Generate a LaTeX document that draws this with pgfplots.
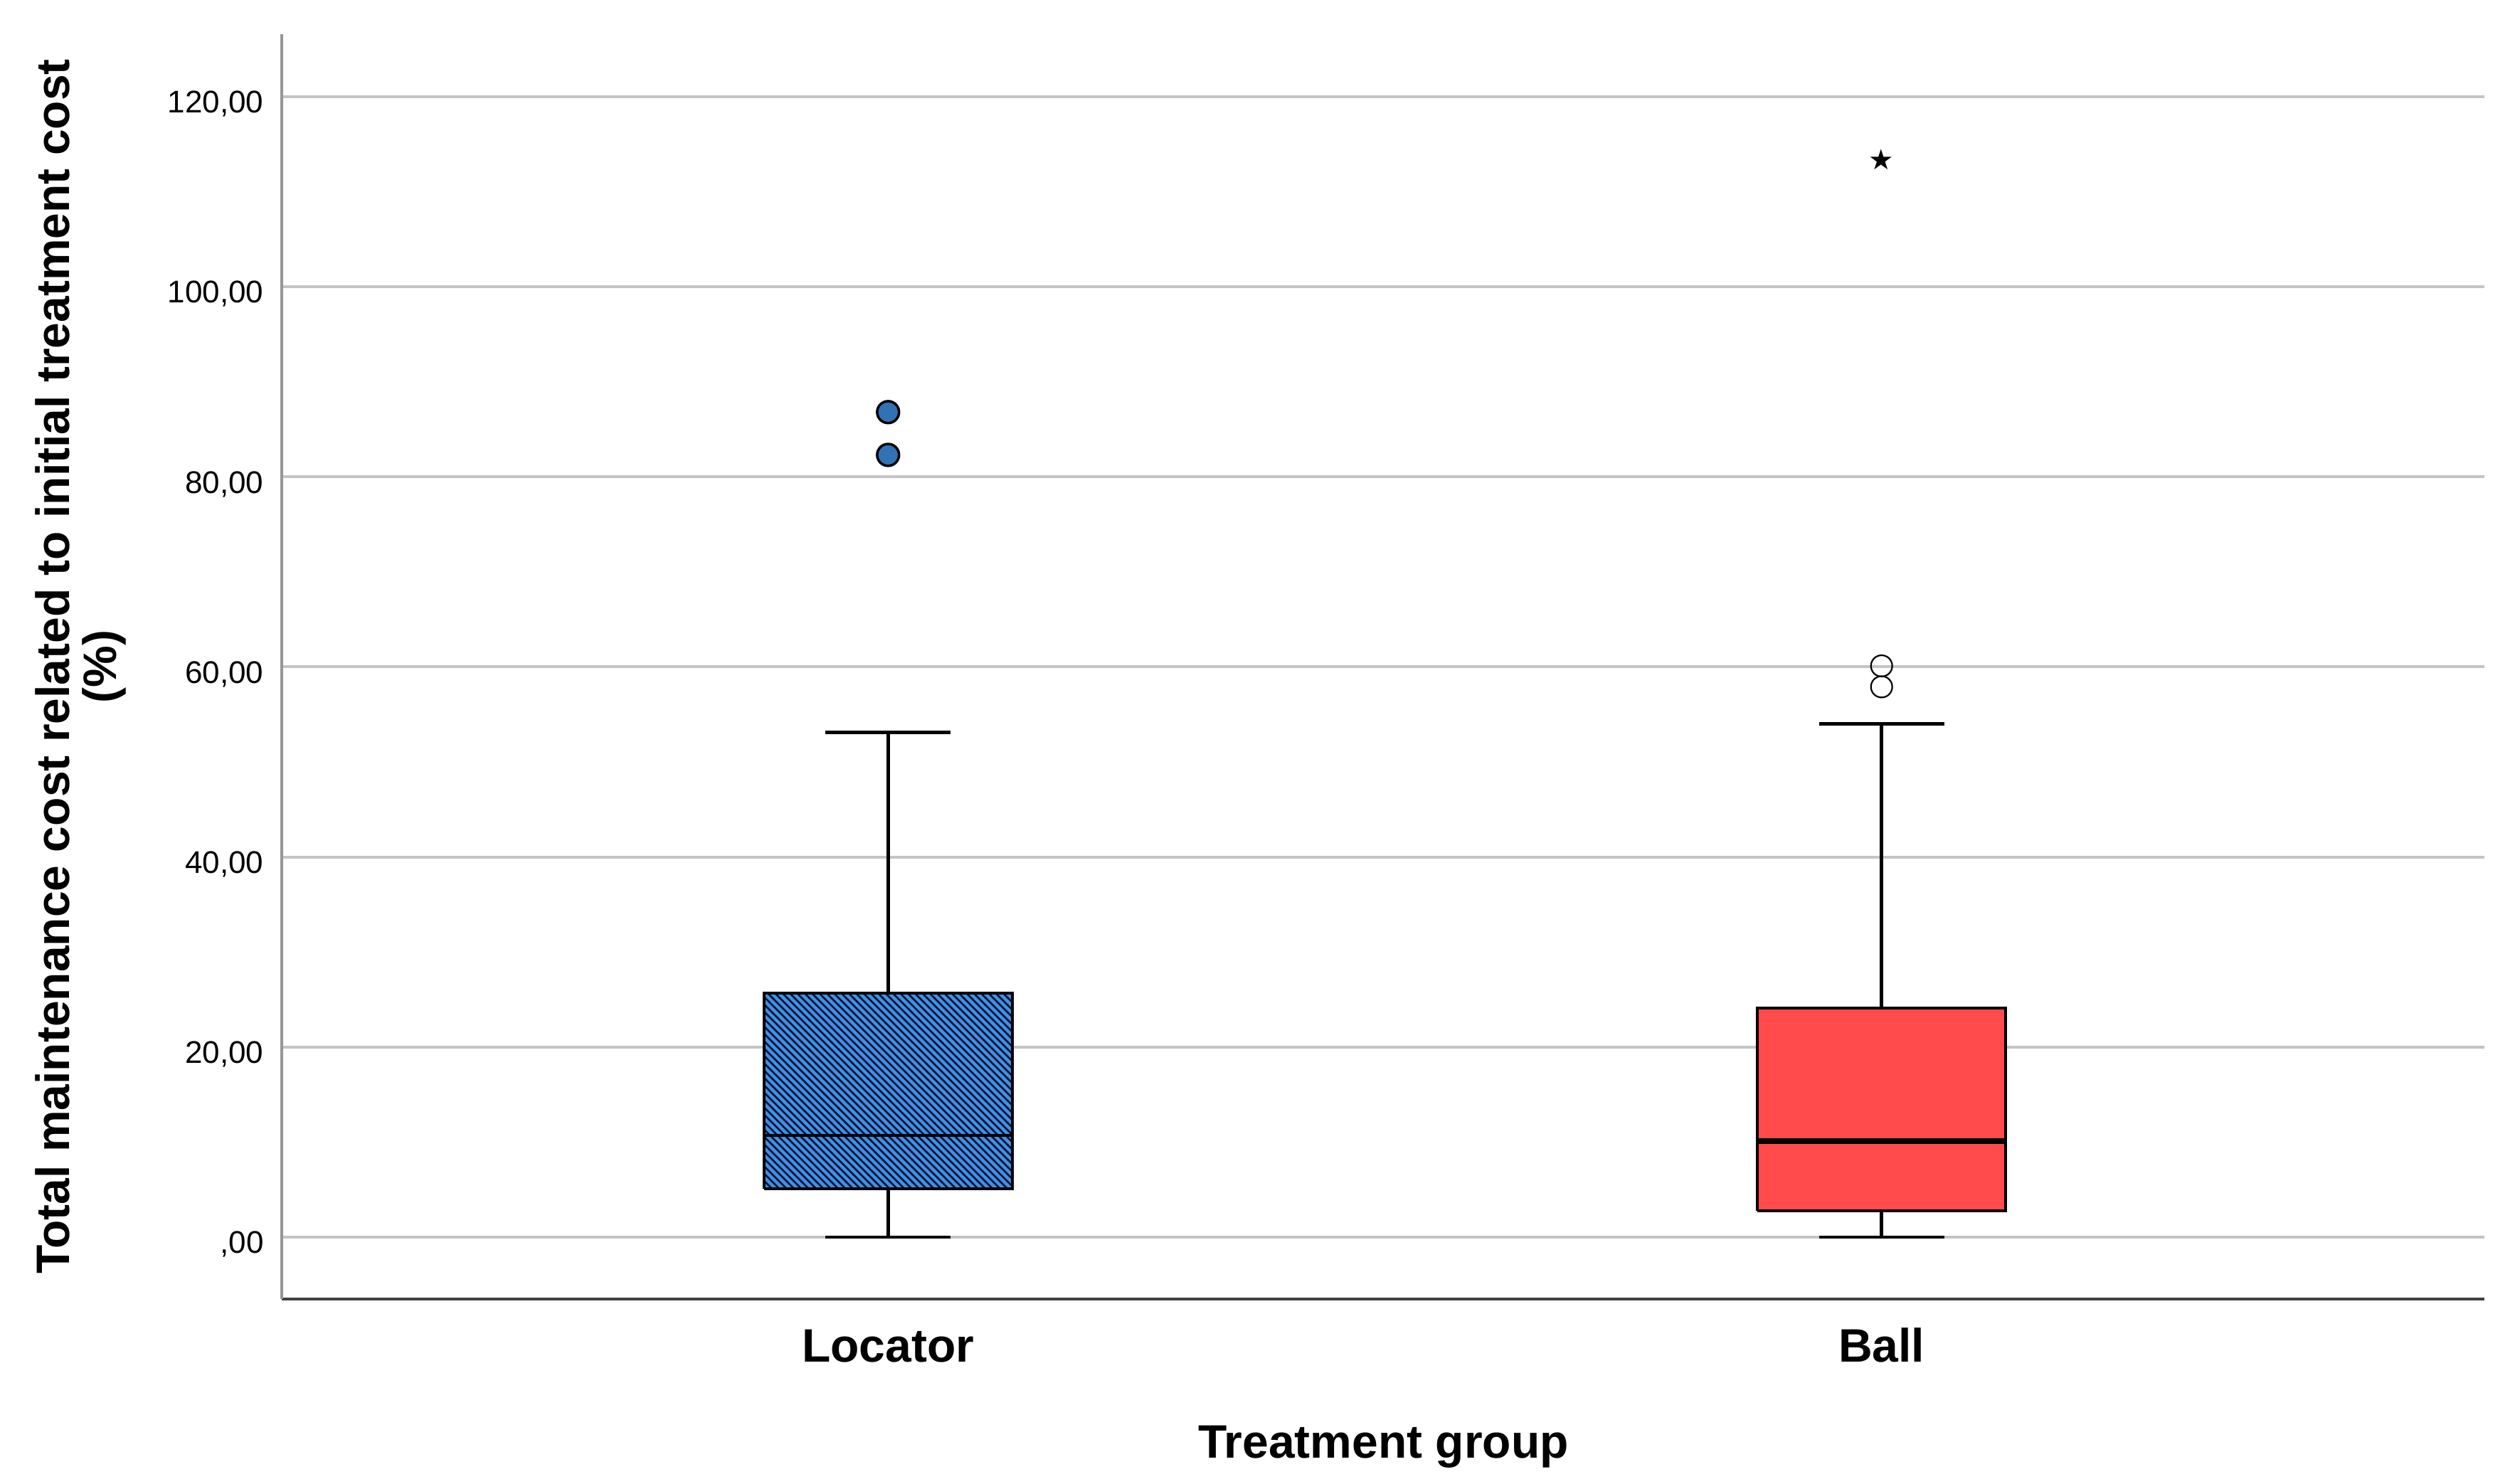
\documentclass[border=0pt]{standalone}
\usepackage{pgfplots}
\pgfplotsset{compat=1.18}
\usetikzlibrary{patterns}
\usepackage{fontspec}
\setmainfont{Liberation Sans}
\newfontfamily\starfont{DejaVu Sans}

\definecolor{locblue}{RGB}{66,146,222}
\definecolor{locline}{RGB}{0,18,64}
\definecolor{ballred}{RGB}{255,75,75}
\definecolor{gridgray}{RGB}{196,196,196}
\definecolor{yaxisgray}{RGB}{150,150,150}
\definecolor{xaxisgray}{RGB}{64,64,64}

% dense diagonal hatching for the Locator box
\pgfdeclarepatternformonly{densenw}{\pgfqpoint{-1pt}{-1pt}}{\pgfqpoint{3.35pt}{3.35pt}}{\pgfqpoint{2.35pt}{2.35pt}}{%
  \pgfsetlinewidth{0.6pt}%
  \pgfpathmoveto{\pgfqpoint{-0.1pt}{2.45pt}}%
  \pgfpathlineto{\pgfqpoint{2.45pt}{-0.1pt}}%
  \pgfusepath{stroke}%
}

\begin{document}
\begin{tikzpicture}
\useasboundingbox (-90.1pt,-58.9pt) rectangle (713.3pt,415pt);
\begin{axis}[
    scale only axis,
    width=703.6pt, height=404.1pt,
    xmin=0.39, xmax=2.607,
    ymin=-6.51, ymax=126.57,
    axis x line*=bottom, axis y line*=left,
    separate axis lines,
    x axis line style={draw=xaxisgray, line width=0.9pt, -},
    y axis line style={draw=yaxisgray, line width=0.9pt, -},
    tick style={draw=none},
    xtick={1,2}, xticklabels={Locator,Ball},
    ytick={0,20,40,60,80,100,120},
    yticklabels={{,00},{20,00},{40,00},{60,00},{80,00},{100,00},{120,00}},
    ymajorgrids,
    grid style={draw=gridgray, line width=0.9pt},
    yticklabel style={font=\fontsize{10}{12}\selectfont, anchor=base east,
        inner sep=0pt, xshift=-5.7pt, yshift=-5.2pt},
    xticklabel style={font=\bfseries\fontsize{15}{18}\selectfont, anchor=base,
        inner sep=0pt, yshift=-20.2pt},
    xlabel={Treatment group},
    ylabel={Total maintenance cost related to initial treatment cost\\(\%)},
    xlabel style={font=\bfseries\fontsize{15}{18}\selectfont,
        at={(axis description cs:0.5,0)}, yshift=-50.9pt, anchor=base, inner sep=0pt},
    ylabel style={font=\bfseries\fontsize{15}{15}\selectfont, align=center,
        at={(axis description cs:-0.07064,0.5)}, anchor=south, inner sep=0pt},
    whisk/.style={draw=black, line width=1.1pt, mark=none},
]

% Locator: whiskers 0 / 53.1, quartiles 5.1 / 25.7, median 10.7
\addplot[whisk] coordinates {(1,0) (1,5.1)};
\addplot[whisk] coordinates {(1,25.7) (1,53.1)};
\addplot[whisk] coordinates {(0.937,0) (1.063,0)};
\addplot[whisk] coordinates {(0.937,53.1) (1.063,53.1)};
\addplot[draw=black, line width=0.9pt, fill=locblue,
    postaction={pattern=densenw, pattern color=locline}]
    coordinates {(0.875,5.1) (1.125,5.1) (1.125,25.7) (0.875,25.7) (0.875,5.1)};
\addplot[whisk] coordinates {(0.875,10.7) (1.125,10.7)};

% Ball: whiskers 0 / 54.0, quartiles 2.8 / 24.1, median 10.1
\addplot[whisk] coordinates {(2,0) (2,2.8)};
\addplot[whisk] coordinates {(2,24.1) (2,54.0)};
\addplot[whisk] coordinates {(1.937,0) (2.063,0)};
\addplot[whisk] coordinates {(1.937,54.0) (2.063,54.0)};
\addplot[draw=black, line width=0.9pt, fill=ballred]
    coordinates {(1.875,2.8) (2.125,2.8) (2.125,24.1) (1.875,24.1) (1.875,2.8)};
\addplot[whisk, line width=1.8pt] coordinates {(1.875,10.1) (2.125,10.1)};

% outliers
\addplot[only marks, mark=*, mark size=3.5pt,
    mark options={draw=black, line width=0.8pt, fill=locblue!75!locline}]
    coordinates {(1,82.3) (1,86.8)};
\addplot[only marks, mark=o, mark size=3.4pt,
    mark options={draw=black, line width=0.5pt}]
    coordinates {(2,57.9) (2,60.1)};
% extreme value
\addplot[only marks, mark=text, text mark={\starfont\fontsize{9}{10}\selectfont ★},
    mark options={black}]
    coordinates {(2,113.4)};

\end{axis}
\end{tikzpicture}
\end{document}
